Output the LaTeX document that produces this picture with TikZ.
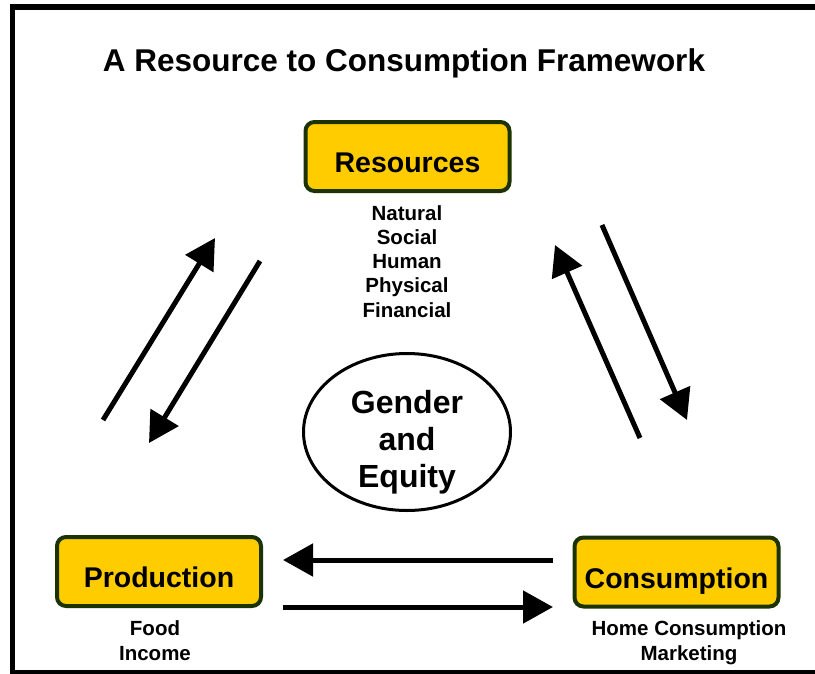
\documentclass[tikz,border=0pt]{standalone}
\usepackage{fontspec}
\setmainfont{Liberation Sans}
\usetikzlibrary{arrows.meta,shapes.geometric}
\definecolor{boxfill}{RGB}{255,204,0}
\definecolor{boxline}{RGB}{26,51,0}
\tikzset{
	stagebox/.style = {draw = boxline, fill = boxfill, line width = 4pt, rounded corners = 9pt,
		minimum width = 204pt, minimum height = 69pt, inner sep = 0pt,
		font = \fontsize{28.5}{34}\selectfont\bfseries, text height = 32pt, text depth = 0pt},
	listtext/.style = {align = center, font = \fontsize{20.5}{24.2}\selectfont\bfseries, inner sep = 0pt},
	flow/.style = {line width = 5pt, -{Triangle[length = 30pt, width = 32pt]}}
}
\begin{document}
\begin{tikzpicture}[x = 1pt, y = -1pt]
	\useasboundingbox (0, 0) rectangle (815, 673);
	\draw[line width = 6pt] (10, 7) -- (815, 7);
	\draw[line width = 5pt] (12.5, 4) -- (12.5, 673);
	\draw[line width = 4pt] (10, 672) -- (815, 672);
	
	\node[font = \fontsize{31.5}{36}\selectfont\bfseries, inner sep = 0pt] (title) at (404, 63) {A Resource to Consumption Framework};
	
	\node[stagebox] (res) at (407.5, 156.5) {Resources};
	\node[stagebox] (prod) at (159, 571.5) {Production};
	\node[stagebox] (cons) at (676.5, 572) {Consumption};
	
	\node[listtext, anchor = base] (resList) at (407, 317) {Natural\\Social\\Human\\Physical\\Financial};
	\node[listtext, anchor = base] (prodList) at (155, 660) {Food\\Income};
	\node[listtext, anchor = base] (consList) at (689, 660) {Home Consumption\\Marketing};
	
	\node[draw, ellipse, line width = 3pt, minimum width = 207pt, minimum height = 157pt, inner xsep = 0pt, inner ysep = -8pt,
		text height = 117pt, text depth = 7pt, align = center, font = \fontsize{32}{37}\selectfont\bfseries] (equity) at (407, 432) {Gender\\and\\Equity};
	
	\coordinate (a1) at (103, 420);
	\coordinate (a1e) at (215, 238);
	\coordinate (a2) at (260, 261);
	\coordinate (a2e) at (149, 443);
	\coordinate (a3) at (640, 438);
	\coordinate (a3e) at (555, 245);
	\coordinate (a4) at (602, 225);
	\coordinate (a4e) at (687, 420);
	\coordinate (b1) at (553, 560);
	\coordinate (b1e) at (283, 560);
	\coordinate (b2) at (283, 607);
	\coordinate (b2e) at (553, 607);
	
	\draw[flow] (a1) -- (a1e);
	\draw[flow] (a2) -- (a2e);
	\draw[flow] (a3) -- (a3e);
	\draw[flow] (a4) -- (a4e);
	\draw[flow] (b1) -- (b1e);
	\draw[flow] (b2) -- (b2e);
\end{tikzpicture}
\end{document}
